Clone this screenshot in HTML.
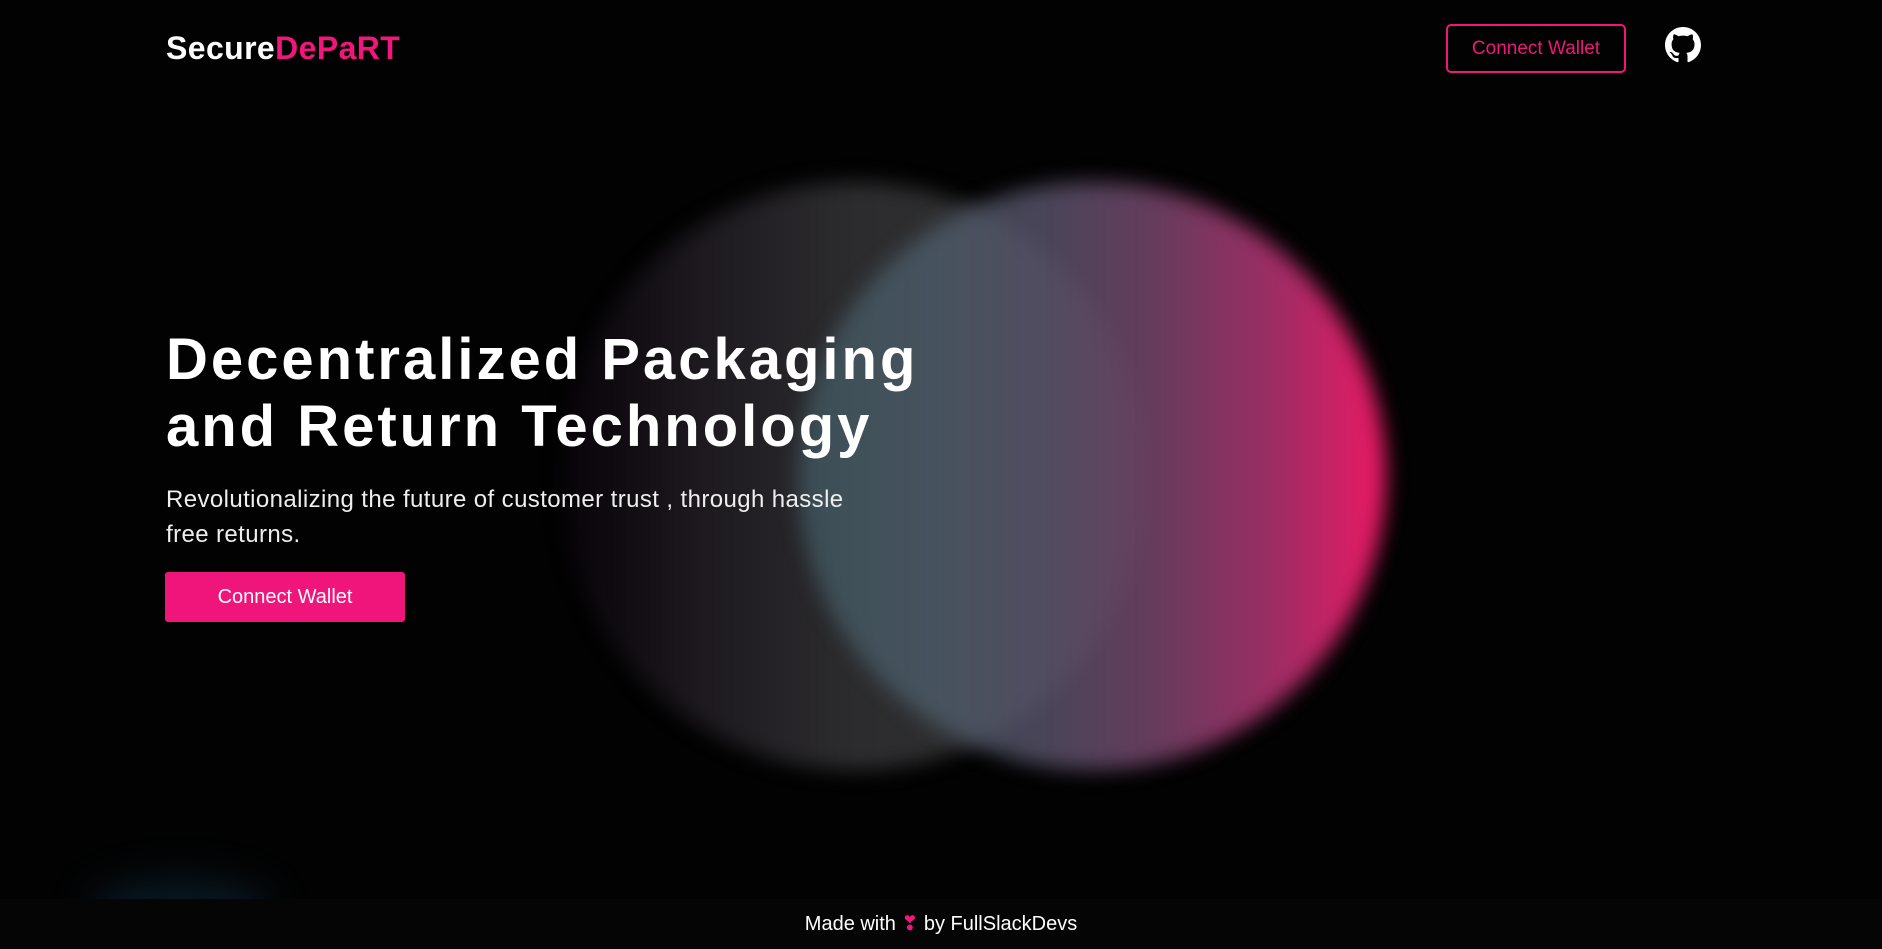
<!DOCTYPE html>
<html><head><meta charset="utf-8"><style>
html,body{margin:0;padding:0;width:1882px;height:949px;overflow:hidden;background:#020202;font-family:"Liberation Sans",sans-serif;color:#fff}
.c{position:absolute;border-radius:50%;filter:blur(10px)}
.logo{position:absolute;left:166px;top:30px;font-size:32px;font-weight:bold;letter-spacing:0.4px}
.hb{position:absolute;left:1446px;top:24px;width:176px;height:45px;border:2px solid #f0167a;border-radius:5px;color:#f0167a;font-size:19px;line-height:45px;text-align:center;box-sizing:content-box}
h1{position:absolute;left:166px;top:326px;margin:0;font-size:58px;line-height:67px;font-weight:bold;letter-spacing:3px}
.sub{position:absolute;left:166px;top:482px;font-size:24px;line-height:35px;width:725px;color:#eee;letter-spacing:0.4px}
.btn{position:absolute;left:165px;top:572px;width:240px;height:50px;background:#ef157a;border-radius:3px;font-size:20px;line-height:50px;text-align:center}
.foot{position:absolute;left:0;top:899px;width:1882px;height:50px;background:#050505;text-align:center;font-size:20px;line-height:50px}
</style></head><body>
<div class="c" style="left:560px;top:182px;width:588px;height:588px;background:linear-gradient(90deg,rgba(20,5,25,0.3) 0%,#1e1a20 25%,#2c2c2e 50%,#333 100%)"></div>
<div class="c" style="left:798px;top:182px;width:588px;height:588px;background:linear-gradient(90deg,rgba(74,110,120,0.55) 0%,rgba(80,95,110,0.75) 25%,rgba(90,80,105,0.85) 45%,rgba(110,62,98,0.95) 62%,#a02c64 82%,#ee1865 100%)"></div>
<div class="c" style="left:90px;top:880px;width:180px;height:60px;background:#0e2a3a;opacity:.6;filter:blur(20px)"></div>
<div class="logo">Secure<span style="color:#f0167a">DePaRT</span></div>
<div class="hb">Connect Wallet</div>
<svg style="position:absolute;left:1665px;top:27px" width="36" height="36" viewBox="0 0 16 16"><path fill="#fff" d="M8 0C3.580 0 0 3.58 0 8c0 3.54 2.29 6.53 5.47 7.59.4.07.55-.17.55-.38 0-.19-.01-.82-.01-1.49-2.010.37-2.53-.49-2.69-.94-.09-.23-.48-.94-.82-1.130-.28-.15-.68-.52-.01-.53.63-.01 1.08.58 1.23.82.72 1.21 1.87.87 2.33.66.07-.52.28-.87.51-1.07-1.78-.2-3.64-.89-3.64-3.95 0-.87.31-1.59.82-2.15-.08-.2-.36-1.02.08-2.12 0 0 .67-.21 2.2.82.64-.18 1.32-.27 2-.27.68 0 1.36.09 2 .27 1.53-1.04 2.2-.82 2.2-.82.44 1.1.16 1.92.08 2.12.51.56.82 1.27.82 2.15 0 3.07-1.87 3.75-3.65 3.95.29.25.54.73.54 1.48 0 1.07-.01 1.93-.01 2.2 0 .21.15.46.55.38A8.013 8.013 0 0016 8c0-4.42-3.58-8-8-8z"/></svg>
<h1>Decentralized Packaging<br>and Return Technology</h1>
<div class="sub">Revolutionalizing the future of customer trust , through hassle free returns.</div>
<div class="btn">Connect Wallet</div>
<div class="foot">Made with <span style="color:#f0167a">❣</span> by FullSlackDevs</div>
</body></html>
